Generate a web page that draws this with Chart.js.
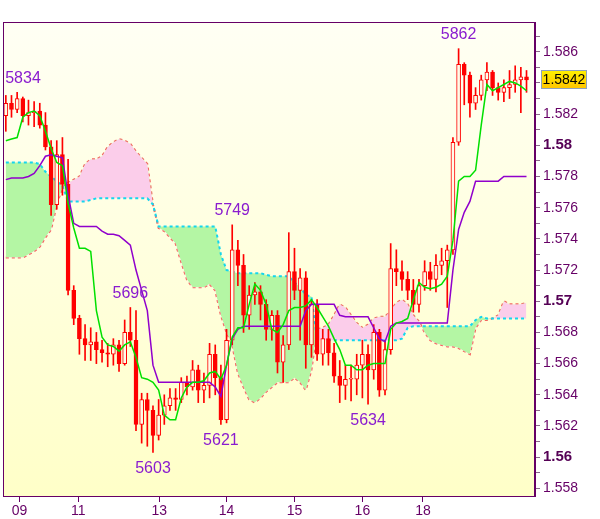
<!DOCTYPE html>
<html>
<head>
<meta charset="utf-8">
<script src="https://cdn.jsdelivr.net/npm/chart.js@4.4.1/dist/chart.umd.min.js"></script>
<style>
  body { margin: 0; background: #ffffff; }
  canvas { display: block; }
</style>
</head>
<body>
<canvas id="chart" width="600" height="519"></canvas>
<script>
// 2-hour bars
const opens = [1.5819,1.5827,1.5823,1.5830,1.5819,1.5821,1.5822,1.5813,1.5799,1.5762,
  1.5794,1.5775,1.5707,1.5689,1.5676,1.5672,1.5674,1.5669,1.5667,1.5666,
  1.5672,1.5660,1.5680,1.5675,1.5621,1.5637,1.5630,1.5614,1.5627,1.5633,
  1.5638,1.5637,1.5648,1.5645,1.5656,1.5643,1.5646,1.5666,1.5651,1.5624,
  1.5675,1.5733,1.5723,1.5691,1.5704,1.5706,1.5698,1.5682,1.5691,1.5661,
  1.5672,1.5719,1.5707,1.5715,1.5672,1.5698,1.5666,1.5676,1.5667,1.5652,
  1.5646,1.5650,1.5650,1.5659,1.5666,1.5656,1.5680,1.5643,1.5669,1.5721,
  1.5719,1.5714,1.5707,1.5698,1.5710,1.5719,1.5714,1.5723,1.5726,1.5733,
  1.5802,1.5852,1.5845,1.5827,1.5832,1.5842,1.5847,1.5837,1.5834,1.5837,
  1.5839,1.5842,1.5844];
const highs = [1.5832,1.5832,1.5834,1.5831,1.5829,1.5828,1.5827,1.5821,1.5803,1.5803,
  1.5805,1.5791,1.5710,1.5691,1.5685,1.5683,1.5680,1.5675,1.5673,1.5676,
  1.5675,1.5688,1.5696,1.5694,1.5641,1.5641,1.5633,1.5637,1.5640,1.5644,
  1.5644,1.5651,1.5652,1.5662,1.5659,1.5654,1.5673,1.5672,1.5659,1.5682,
  1.5749,1.5739,1.5730,1.5710,1.5712,1.5710,1.5701,1.5694,1.5694,1.5678,
  1.5744,1.5734,1.5721,1.5719,1.5701,1.5701,1.5682,1.5682,1.5673,1.5662,
  1.5659,1.5659,1.5666,1.5675,1.5672,1.5685,1.5682,1.5675,1.5737,1.5733,
  1.5726,1.5719,1.5714,1.5714,1.5726,1.5725,1.5730,1.5734,1.5736,1.5805,
  1.5862,1.5853,1.5847,1.5837,1.5845,1.5853,1.5848,1.5840,1.5842,1.5848,
  1.5851,1.5850,1.5848];
const lows = [1.5809,1.5818,1.5821,1.5815,1.5813,1.5812,1.5811,1.5797,1.5755,1.5759,
  1.5768,1.5704,1.5685,1.5666,1.5662,1.5662,1.5660,1.5661,1.5658,1.5659,
  1.5655,1.5659,1.5671,1.5617,1.5609,1.5607,1.5603,1.5611,1.5621,1.5630,
  1.5630,1.5635,1.5640,1.5643,1.5635,1.5635,1.5638,1.5640,1.5621,1.5622,
  1.5672,1.5710,1.5680,1.5682,1.5698,1.5688,1.5675,1.5675,1.5654,1.5648,
  1.5669,1.5701,1.5675,1.5657,1.5664,1.5662,1.5659,1.5659,1.5648,1.5635,
  1.5637,1.5636,1.5640,1.5638,1.5634,1.5650,1.5639,1.5640,1.5666,1.5710,
  1.5707,1.5701,1.5693,1.5693,1.5707,1.5707,1.5706,1.5717,1.5696,1.5730,
  1.5800,1.5826,1.5818,1.5823,1.5829,1.5835,1.5832,1.5829,1.5828,1.5830,
  1.5834,1.5821,1.5834];
const closes = [1.5827,1.5823,1.5830,1.5819,1.5821,1.5822,1.5813,1.5799,1.5762,1.5794,
  1.5775,1.5707,1.5689,1.5676,1.5672,1.5674,1.5669,1.5667,1.5666,1.5672,
  1.5660,1.5680,1.5675,1.5621,1.5637,1.5630,1.5614,1.5627,1.5633,1.5638,
  1.5637,1.5648,1.5645,1.5656,1.5643,1.5646,1.5666,1.5651,1.5624,1.5675,
  1.5733,1.5723,1.5691,1.5704,1.5706,1.5698,1.5682,1.5691,1.5661,1.5672,
  1.5719,1.5707,1.5715,1.5672,1.5698,1.5666,1.5676,1.5667,1.5652,1.5646,
  1.5650,1.5650,1.5659,1.5666,1.5656,1.5680,1.5643,1.5669,1.5721,1.5719,
  1.5714,1.5707,1.5698,1.5710,1.5719,1.5714,1.5723,1.5726,1.5733,1.5802,
  1.5852,1.5845,1.5827,1.5832,1.5842,1.5847,1.5837,1.5834,1.5837,1.5839,
  1.5842,1.5844,1.5842];

// Ichimoku lines
const tenkan = [1.5803,1.5804,1.5805,1.5818,1.5821,1.5822,1.5819,1.5809,1.5798,1.5789,
  1.5787,1.5763,1.5747,1.5734,1.5734,1.5732,1.5694,1.5677,1.5672,1.5671,
  1.5668,1.5672,1.5674,1.5664,1.5651,1.5650,1.5648,1.5643,1.5627,1.5624,
  1.5624,1.5638,1.5645,1.5648,1.5648,1.5649,1.5654,1.5655,1.5650,1.5659,
  1.5677,1.5683,1.5683,1.5698,1.5711,1.5707,1.5698,1.5682,1.5680,1.5685,
  1.5694,1.5696,1.5696,1.5697,1.5701,1.5696,1.5690,1.5684,1.5676,1.5669,
  1.5659,1.5659,1.5656,1.5656,1.5659,1.5660,1.5660,1.5660,1.5682,1.5686,
  1.5687,1.5689,1.5701,1.5712,1.5709,1.5708,1.5709,1.5711,1.5716,1.5739,
  1.5777,1.5780,1.5780,1.5784,1.5813,1.5839,1.5835,1.5837,1.5839,1.5841,
  1.5840,1.5838,1.5835];
const kijun = [1.5778,1.5779,1.5779,1.5779,1.5780,1.5782,1.5787,1.5793,1.5794,1.5793,
  1.5792,1.5768,1.5750,1.5748,1.5748,1.5748,1.5748,1.5745,1.5743,1.5743,
  1.5742,1.5739,1.5736,1.5720,1.5707,1.5694,1.5659,1.5648,1.5648,1.5648,
  1.5648,1.5648,1.5648,1.5648,1.5648,1.5648,1.5648,1.5645,1.5639,1.5659,
  1.5676,1.5682,1.5684,1.5684,1.5684,1.5684,1.5684,1.5684,1.5684,1.5684,
  1.5684,1.5684,1.5684,1.5694,1.5698,1.5698,1.5698,1.5698,1.5698,1.5691,
  1.5690,1.5690,1.5690,1.5690,1.5690,1.5683,1.5676,1.5674,1.5684,1.5686,
  1.5686,1.5686,1.5686,1.5686,1.5686,1.5686,1.5686,1.5686,1.5686,1.5720,
  1.5746,1.5757,1.5764,1.5777,1.5777,1.5777,1.5777,1.5777,1.5780,1.5780,
  1.5780,1.5780,1.5780];
const spanA = [1.5789,1.5789,1.5789,1.5789,1.5789,1.5789,1.5788,1.5783,1.5780,1.5777,
  1.5774,1.5764,1.5764,1.5764,1.5764,1.5765,1.5766,1.5766,1.5766,1.5766,
  1.5766,1.5766,1.5766,1.5766,1.5766,1.5766,1.5762,1.5748,1.5748,1.5748,
  1.5748,1.5748,1.5748,1.5748,1.5748,1.5748,1.5748,1.5748,1.5730,1.5720,
  1.5719,1.5718,1.5718,1.5718,1.5718,1.5718,1.5717,1.5716,1.5716,1.5716,
  1.5716,1.5712,1.5709,1.5704,1.5703,1.5675,1.5675,1.5675,1.5675,1.5675,
  1.5675,1.5675,1.5675,1.5675,1.5675,1.5675,1.5675,1.5675,1.5675,1.5675,
  1.5676,1.5683,1.5684,1.5684,1.5684,1.5684,1.5684,1.5684,1.5684,1.5684,
  1.5684,1.5684,1.5684,1.5688,1.5690,1.5689,1.5689,1.5689,1.5689,1.5689,
  1.5689,1.5689,1.5689];
const spanB = [1.5728,1.5728,1.5728,1.5728,1.5730,1.5732,1.5735,1.5741,1.5746,1.5762,
  1.5773,1.5776,1.5778,1.5780,1.5788,1.5791,1.5791,1.5793,1.5799,1.5802,
  1.5804,1.5803,1.5801,1.5796,1.5792,1.5788,1.5762,1.5747,1.5745,1.5741,
  1.5737,1.5725,1.5714,1.5709,1.5709,1.5709,1.5711,1.5707,1.5691,1.5680,
  1.5672,1.5654,1.5645,1.5637,1.5635,1.5638,1.5642,1.5645,1.5648,1.5648,
  1.5648,1.5651,1.5648,1.5643,1.5656,1.5682,1.5683,1.5685,1.5691,1.5698,
  1.5696,1.5691,1.5686,1.5683,1.5685,1.5689,1.5690,1.5690,1.5694,1.5699,
  1.5701,1.5698,1.5691,1.5687,1.5680,1.5675,1.5673,1.5672,1.5671,1.5671,
  1.5670,1.5668,1.5666,1.5683,1.5688,1.5688,1.5689,1.5691,1.5700,1.5698,
  1.5698,1.5698,1.5699];

// day labels on the time axis (position in bars)
const dayTicks = [2.9, 13.3, 27.6, 39.5, 51.5, 63.5, 74.2];
const dayLabels = ['09', '11', '13', '14', '15', '16', '18'];

// marked highs / lows
const markBars = [2, 22, 40, 80, 26, 38, 64];
const markSides = ['high', 'high', 'high', 'high', 'low', 'low', 'low'];

const yMin = 1.55751;
const yMax = 1.58791;
const xMax = 94;
const frameColor = '#660066';
const fontFamily = '"Liberation Sans", Arial, sans-serif';

Chart.defaults.font.family = fontFamily;

const pts = arr => arr.map((v, i) => ({ x: i + 0.5, y: v }));
const isRound = c => c.tick && Math.round(c.tick.value * 1000) % 10 === 0;

// background + frame + price box + extreme labels
const decorPlugin = {
    id: 'decor',
    beforeDraw(chart) {
        const { ctx, chartArea: a } = chart;
        ctx.save();
        ctx.fillStyle = '#ffffff';
        ctx.fillRect(0, 0, chart.width, chart.height);
        const g = ctx.createLinearGradient(0, a.top, 0, a.bottom);
        g.addColorStop(0, '#fffff4');
        g.addColorStop(1, '#ffffc8');
        ctx.fillStyle = g;
        ctx.fillRect(a.left, a.top, a.right - a.left, a.bottom - a.top);
        ctx.restore();
    },
    afterDraw(chart) {
        const { ctx, chartArea: a, scales } = chart;
        ctx.save();
        ctx.strokeStyle = frameColor;
        ctx.lineWidth = 1;
        ctx.strokeRect(a.left + 0.5, a.top + 0.5, a.right - a.left - 1, a.bottom - a.top);

        // extreme labels
        ctx.font = '16px ' + fontFamily;
        ctx.fillStyle = '#8a1ccf';
        ctx.textAlign = 'center';
        ctx.textBaseline = 'middle';
        markBars.forEach((b, k) => {
            const price = markSides[k] === 'high' ? highs[b] : lows[b];
            const txt = String(Math.round(price * 10000) % 10000);
            let x = scales.x.getPixelForValue(b + 0.5);
            x = Math.max(x, a.left + 20);
            const y = scales.y.getPixelForValue(price) + (markSides[k] === 'high' ? -14 : 16);
            ctx.fillText(txt, x, y);
        });

        // last price box
        const last = closes[closes.length - 1];
        const py = Math.round(scales.y.getPixelForValue(last));
        const bx = 541, bw = 46, bh = 19, by = py - 10;
        const bg = ctx.createLinearGradient(0, by, 0, by + bh);
        bg.addColorStop(0, '#fff200');
        bg.addColorStop(1, '#ffc400');
        ctx.fillStyle = bg;
        ctx.fillRect(bx, by, bw, bh);
        ctx.strokeStyle = '#8ea2bd';
        ctx.strokeRect(bx + 0.5, by + 0.5, bw - 1, bh - 1);
        ctx.fillStyle = '#000000';
        ctx.font = '14px ' + fontFamily;
        ctx.textAlign = 'center';
        ctx.fillText(last.toFixed(4), bx + bw / 2, py + 0.5);
        ctx.restore();
    }
};

new Chart(document.getElementById('chart'), {
    type: 'bar',
    data: {
        datasets: [
            {
                type: 'line',
                data: pts(spanA),
                borderColor: '#14d6ee',
                borderWidth: 2,
                borderDash: [3, 3],
                pointRadius: 0,
                fill: { target: 1, above: '#b4f6a4', below: '#fbcdea' },
                order: 10
            },
            {
                type: 'line',
                data: pts(spanB),
                borderColor: '#f46660',
                borderWidth: 2,
                borderDash: [3, 3],
                pointRadius: 0,
                fill: false,
                order: 11
            },
            {
                // wicks
                data: lows.map((l, i) => ({ x: i + 0.5, y: [l, highs[i]] })),
                backgroundColor: '#ff0000',
                borderWidth: 0,
                barThickness: 1,
                grouped: false,
                order: 6
            },
            {
                // bodies
                data: opens.map((o, i) => ({ x: i + 0.5, y: [o, closes[i]] })),
                backgroundColor: c => closes[c.dataIndex] >= opens[c.dataIndex] ? '#fffbe8' : '#ff0000',
                borderColor: '#ff0000',
                borderWidth: 1,
                borderSkipped: false,
                barThickness: 4,
                minBarLength: 1,
                grouped: false,
                order: 5
            },
            {
                type: 'line',
                data: pts(kijun),
                borderColor: '#9000cc',
                borderWidth: 1.5,
                pointRadius: 0,
                fill: false,
                order: 2
            },
            {
                type: 'line',
                data: pts(tenkan),
                borderColor: '#00e000',
                borderWidth: 1.5,
                pointRadius: 0,
                fill: false,
                order: 1
            }
        ]
    },
    options: {
        responsive: false,
        animation: false,
        devicePixelRatio: 1,
        events: [],
        layout: { padding: { left: 3, top: 22, right: 0, bottom: 0 } },
        plugins: {
            legend: { display: false },
            tooltip: { enabled: false }
        },
        scales: {
            x: {
                type: 'linear',
                min: 0,
                max: xMax,
                offset: false,
                afterBuildTicks: axis => {
                    axis.ticks = dayTicks.map(v => ({ value: v }));
                },
                afterFit: axis => { axis.height = 23; },
                grid: { offset: false, drawOnChartArea: false, tickLength: 6, color: frameColor },
                border: { color: frameColor },
                ticks: {
                    autoSkip: false,
                    maxRotation: 0,
                    padding: 1,
                    color: '#660066',
                    font: { size: 14 },
                    callback: (v, i) => dayLabels[i]
                }
            },
            y: {
                position: 'right',
                min: yMin,
                max: yMax,
                afterBuildTicks: axis => {
                    const t = [];
                    for (let k = 1558; k <= 1587; k++) t.push({ value: k / 1000 });
                    axis.ticks = t;
                },
                afterFit: axis => { axis.width = 65; },
                grid: { drawOnChartArea: false, tickLength: 5, color: '#8a6a8a' },
                border: { color: frameColor },
                ticks: {
                    autoSkip: false,
                    padding: 3,
                    color: c => isRound(c) ? '#550055' : '#660066',
                    font: c => isRound(c) ? { size: 15, weight: 'bold' } : { size: 14 },
                    callback: v => {
                        const k = Math.round(v * 1000);
                        if (k % 2 !== 0 || k === 1584) return '';
                        return String(parseFloat((k / 1000).toFixed(3)));
                    }
                }
            }
        }
    },
    plugins: [decorPlugin]
});
</script>
</body>
</html>
